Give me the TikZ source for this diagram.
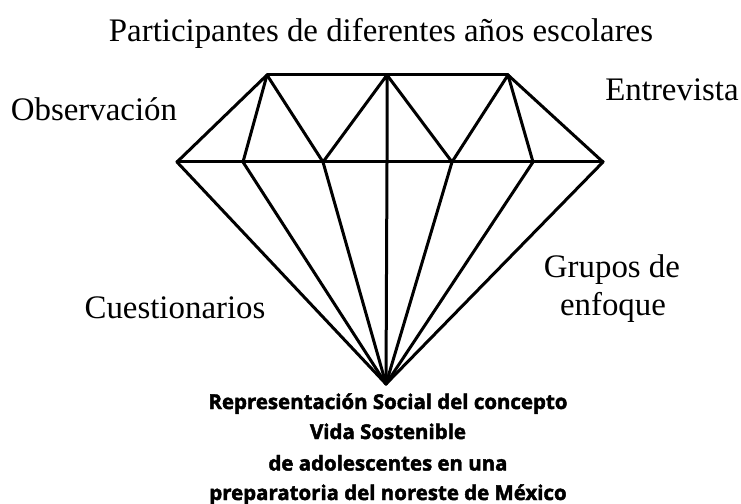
\documentclass[tikz,border=0pt]{standalone}
\usepackage{fontspec}
\setmainfont{Liberation Serif}
\newfontfamily\boldsans[BoldFeatures={FakeBold=2.2}]{Open Sans}
\begin{document}
\begin{tikzpicture}[x=1bp,y=-1bp,
  facet/.style={line width=3bp,line join=round,line cap=round},
  lbl/.style={font=\fontsize{33}{38}\selectfont,inner sep=0pt,anchor=base},
  ttl/.style={font=\boldsans\bfseries\fontsize{20.5}{30}\selectfont,inner sep=0pt,align=center,anchor=base}]
\useasboundingbox (0,0) rectangle (741,504);
% vertices
\coordinate (TL) at (267,75);
\coordinate (TM) at (387,75);
\coordinate (TR) at (508,75);
\coordinate (G1) at (177,162);
\coordinate (G2) at (243,162);
\coordinate (G3) at (323,162);
\coordinate (G4) at (387,162);
\coordinate (G5) at (452,162);
\coordinate (G6) at (533,162);
\coordinate (G7) at (603,162);
\coordinate (B) at (386,384);
% crown
\draw[facet] (TL) -- (TR);
\draw[facet] (G1) -- (G7);
\draw[facet] (G1) -- (TL) -- (G2);
\draw[facet] (TL) -- (G3) -- (TM) -- (G4);
\draw[facet] (TM) -- (G5) -- (TR) -- (G6);
\draw[facet] (TR) -- (G7);
% pavilion
\foreach \g in {G1,G2,G3,G4,G5,G6,G7}
  \draw[facet] (\g) -- (B);
% labels
\node[lbl] (title) at (381,42) {Participantes de diferentes años escolares};
\node[lbl] (obs) at (94,120.5) {Observación};
\node[lbl] (ent) at (672,100.5) {Entrevista};
\node[lbl] (cue) at (175,318) {Cuestionarios};
\node[lbl] (gru) at (612,278) {Grupos de};
\node[lbl] (enf) at (613,315) {enfoque};
\node[ttl] (rs1) at (388,409) {Representación Social del concepto};
\node[ttl] (rs2) at (388,439) {Vida Sostenible};
\node[ttl] (rs3) at (388,470.5) {de adolescentes en una};
\node[ttl] (rs4) at (388,500) {preparatoria del noreste de México};
\end{tikzpicture}
\end{document}
